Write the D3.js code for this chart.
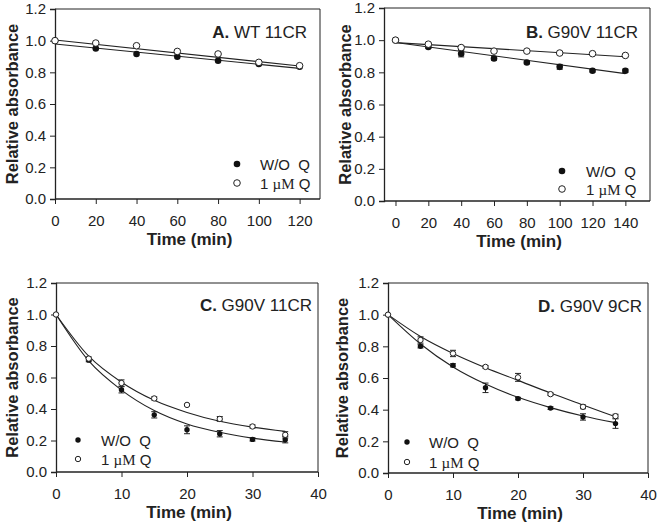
<!DOCTYPE html>
<html>
<head>
<meta charset="utf-8">
<script src="https://cdn.jsdelivr.net/npm/d3@7"></script>
<style>
  body { margin: 0; background: #fff; }
  svg { display: block; font-family: "Liberation Sans", Arial, sans-serif; }
</style>
</head>
<body>
<svg id="chart" width="660" height="530"></svg>
<script>
// panel A: WT 11CR
const timeA = [0, 20, 40, 60, 80, 100, 120];
const woqA = [1.0, 0.951, 0.916, 0.899, 0.873, 0.853, 0.835];
const qA = [1.0, 0.985, 0.968, 0.932, 0.916, 0.863, 0.842];
const fitTimeA = [0, 120];
const fitWoqA = [0.979, 0.825];
const fitQA = [1.004, 0.84];

// panel B: G90V 11CR
const timeB = [0, 20, 40, 60, 80, 100, 120, 140];
const woqB = [1.0, 0.958, 0.916, 0.886, 0.861, 0.834, 0.81, 0.81];
const errWoqB = [0, 0.008, 0.02, 0.01, 0.008, 0.015, 0.008, 0.01];
const qB = [1.0, 0.975, 0.954, 0.932, 0.932, 0.92, 0.916, 0.905];
const errQB = [0, 0.008, 0.01, 0.008, 0.005, 0.005, 0.005, 0.005];
const fitTimeB = [0, 140];
const fitWoqB = [0.985, 0.792];
const fitQB = [0.985, 0.897];

// panel C: G90V 11CR
const timeC = [0, 5, 10, 15, 20, 25, 30, 35];
const woqC = [1.0, 0.71, 0.522, 0.363, 0.268, 0.243, 0.207, 0.205];
const errWoqC = [0, 0.01, 0.02, 0.02, 0.025, 0.02, 0.01, 0.02];
const qC = [1.0, 0.72, 0.565, 0.467, 0.426, 0.337, 0.289, 0.236];
const errQC = [0, 0.01, 0.02, 0.01, 0.005, 0.015, 0.01, 0.02];
const fitWoqC = [1.0, 0.705, 0.52, 0.39, 0.305, 0.252, 0.215, 0.19];
const fitQC = [1.0, 0.735, 0.57, 0.455, 0.378, 0.322, 0.285, 0.258];

// panel D: G90V 9CR
const timeD = [0, 5, 10, 15, 20, 25, 30, 35];
const woqD = [1.0, 0.80, 0.68, 0.538, 0.47, 0.41, 0.354, 0.312];
const errWoqD = [0, 0.01, 0.01, 0.03, 0.008, 0.008, 0.02, 0.03];
const qD = [1.0, 0.84, 0.755, 0.67, 0.604, 0.498, 0.418, 0.359];
const errQD = [0, 0.02, 0.02, 0.008, 0.025, 0.008, 0.012, 0.012];
const fitWoqD = [1.0, 0.815, 0.67, 0.562, 0.478, 0.413, 0.36, 0.318];
const fitQD = [1.0, 0.862, 0.755, 0.665, 0.585, 0.505, 0.43, 0.355];

const yTicks = [0, 0.2, 0.4, 0.6, 0.8, 1.0, 1.2];
const xTicksA = [0, 20, 40, 60, 80, 100, 120];
const xTicksB = [0, 20, 40, 60, 80, 100, 120, 140];
const xTicksCD = [0, 10, 20, 30, 40];

const svg = d3.select('#chart');

const panels = [
  {
    letter: 'A.', name: ' WT 11CR',
    box: {left: 55, right: 320, top: 9, bottom: 199},
    xDomain: [0, 130], xTicks: xTicksA,
    time: timeA, woq: woqA, q: qA, errWoq: null, errQ: null,
    fitTime: fitTimeA, fitWoq: fitWoqA, fitQ: fitQA, curved: false,
    r: 3.3, titleX: 307, titleY: 38,
    legend: {x: 237, y: 164, tx: 260, gap: 19},
    yLabelX: 12
  },
  {
    letter: 'B.', name: ' G90V 11CR',
    box: {left: 384, right: 650, top: 8, bottom: 201},
    xDomain: [-7, 155], xTicks: xTicksB,
    time: timeB, woq: woqB, q: qB, errWoq: errWoqB, errQ: errQB,
    fitTime: fitTimeB, fitWoq: fitWoqB, fitQ: fitQB, curved: false,
    r: 3.3, titleX: 638, titleY: 38,
    legend: {x: 562, y: 171, tx: 586, gap: 18},
    yLabelX: 345
  },
  {
    letter: 'C.', name: ' G90V 11CR',
    box: {left: 56, right: 318, top: 283, bottom: 472},
    xDomain: [0, 40], xTicks: xTicksCD,
    time: timeC, woq: woqC, q: qC, errWoq: errWoqC, errQ: errQC,
    fitTime: timeC, fitWoq: fitWoqC, fitQ: fitQC, curved: true,
    r: 2.7, titleX: 312, titleY: 311,
    legend: {x: 78, y: 440, tx: 101, gap: 19},
    yLabelX: 12
  },
  {
    letter: 'D.', name: ' G90V 9CR',
    box: {left: 388, right: 648, top: 283, bottom: 473},
    xDomain: [0, 40], xTicks: xTicksCD,
    time: timeD, woq: woqD, q: qD, errWoq: errWoqD, errQ: errQD,
    fitTime: timeD, fitWoq: fitWoqD, fitQ: fitQD, curved: true,
    r: 2.7, titleX: 642, titleY: 312,
    legend: {x: 407, y: 442, tx: 429, gap: 20},
    yLabelX: 342
  }
];

panels.forEach(drawPanel);

function drawPanel(p) {
  const b = p.box;
  const x = d3.scaleLinear().domain(p.xDomain).range([b.left, b.right]);
  const y = d3.scaleLinear().domain([0, 1.2]).range([b.bottom, b.top]);
  const g = svg.append('g');

  // frame (top and right)
  g.append('path')
    .attr('d', `M${b.left},${b.top}H${b.right}V${b.bottom}`)
    .attr('fill', 'none')
    .attr('stroke', '#222')
    .attr('stroke-width', 1);

  const yAxis = g.append('g')
    .attr('transform', `translate(${b.left},0)`)
    .call(d3.axisLeft(y).tickValues(yTicks).tickFormat(d3.format('.1f')).tickSizeOuter(0).tickSize(5).tickPadding(4));
  const xAxis = g.append('g')
    .attr('transform', `translate(0,${b.bottom})`)
    .call(d3.axisBottom(x).tickValues(p.xTicks).tickSizeOuter(0).tickSize(5).tickPadding(11));
  [xAxis, yAxis].forEach(ax => {
    ax.select('.domain').attr('stroke', '#222').attr('stroke-width', 1.3);
    ax.selectAll('.tick line').attr('stroke', '#222');
    ax.selectAll('text')
      .attr('font-family', '"Liberation Sans", Arial, sans-serif')
      .attr('font-size', 15)
      .attr('fill', '#222');
  });
  // the x axis line spans the whole box
  xAxis.select('.domain').attr('d', `M${b.left},0H${b.right}`);

  // fit lines
  const line = d3.line()
    .x(d => x(d[0]))
    .y(d => y(d[1]))
    .curve(p.curved ? d3.curveMonotoneX : d3.curveLinear);
  [p.fitWoq, p.fitQ].forEach(fit => {
    g.append('path')
      .attr('d', line(p.fitTime.map((t, i) => [t, fit[i]])))
      .attr('fill', 'none')
      .attr('stroke', '#222')
      .attr('stroke-width', 1.1);
  });

  // error bars
  const errs = [[p.woq, p.errWoq], [p.q, p.errQ]];
  errs.forEach(([vals, err]) => {
    if (!err) return;
    vals.forEach((v, i) => {
      if (!err[i]) return;
      const cx = x(p.time[i]);
      const y0 = y(v - err[i]), y1 = y(v + err[i]);
      g.append('path')
        .attr('d', `M${cx},${y0}V${y1}M${cx - 3},${y0}H${cx + 3}M${cx - 3},${y1}H${cx + 3}`)
        .attr('stroke', '#222')
        .attr('stroke-width', 1)
        .attr('fill', 'none');
    });
  });

  // markers
  g.selectAll('.woq').data(p.woq).enter().append('circle')
    .attr('cx', (d, i) => x(p.time[i]))
    .attr('cy', d => y(d))
    .attr('r', p.r)
    .attr('fill', '#111');
  g.selectAll('.q').data(p.q).enter().append('circle')
    .attr('cx', (d, i) => x(p.time[i]))
    .attr('cy', d => y(d))
    .attr('r', p.r)
    .attr('fill', '#fff')
    .attr('stroke', '#222')
    .attr('stroke-width', 1);

  // title
  const title = g.append('text')
    .attr('x', p.titleX)
    .attr('y', p.titleY)
    .attr('text-anchor', 'end')
    .attr('font-size', 17)
    .attr('fill', '#222')
    .style('white-space', 'pre');
  title.append('tspan').attr('font-weight', 'bold').text(p.letter);
  title.append('tspan').text(p.name);

  // legend
  const lg = p.legend;
  g.append('circle').attr('cx', lg.x).attr('cy', lg.y).attr('r', p.r).attr('fill', '#111');
  g.append('circle').attr('cx', lg.x).attr('cy', lg.y + lg.gap).attr('r', p.r)
    .attr('fill', '#fff').attr('stroke', '#222').attr('stroke-width', 1);
  g.append('text')
    .attr('x', lg.tx).attr('y', lg.y + 5.5)
    .attr('font-size', 15).attr('fill', '#222')
    .style('white-space', 'pre')
    .text('W/O  Q');
  const t2 = g.append('text')
    .attr('x', lg.tx).attr('y', lg.y + lg.gap + 5.5)
    .attr('font-size', 15).attr('fill', '#222')
    .style('white-space', 'pre');
  t2.append('tspan').text('1 ');
  t2.append('tspan').attr('font-family', '"Liberation Serif", "Times New Roman", serif').text('\u00b5M');
  t2.append('tspan').text(' Q');

  // axis titles
  g.append('text')
    .attr('x', (b.left + b.right) / 2 + 2)
    .attr('y', b.bottom + 46)
    .attr('text-anchor', 'middle')
    .attr('font-size', 17)
    .attr('font-weight', 'bold')
    .attr('fill', '#222')
    .text('Time (min)');
  g.append('text')
    .attr('transform', `translate(${p.yLabelX},${(b.top + b.bottom) / 2}) rotate(-90)`)
    .attr('dy', '0.35em')
    .attr('text-anchor', 'middle')
    .attr('font-size', 16.5)
    .attr('font-weight', 'bold')
    .attr('fill', '#222')
    .text('Relative absorbance');
}
</script>
</body>
</html>
